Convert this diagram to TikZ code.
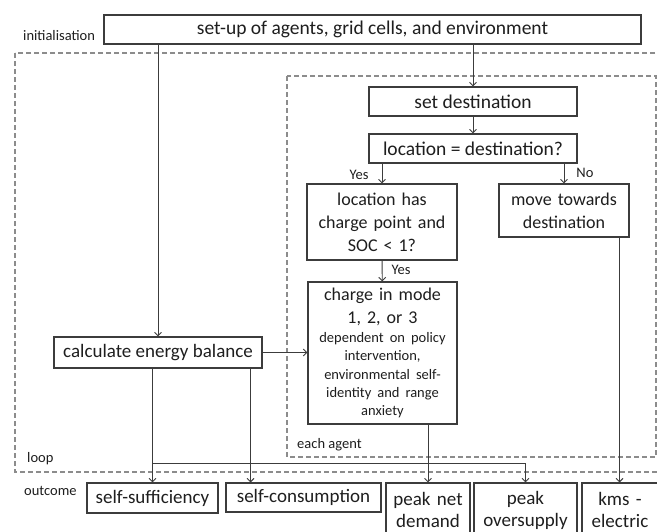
\documentclass[tikz,border=0pt]{standalone}
\usepackage{fontspec}
\setmainfont{Carlito}
\usetikzlibrary{arrows.meta,calc}
\definecolor{ink}{HTML}{1E1E1E}
\definecolor{edgec}{HTML}{3C3C3C}
\definecolor{dashgray}{HTML}{8C8C8C}
\begin{document}
\begin{tikzpicture}[x=1pt,y=-1pt,
  box/.style={draw=edgec, line width=1.1pt, fill=white, text=ink, inner sep=0pt,
    font=\fontsize{18}{23}\selectfont, align=center},
  big/.style={font=\fontsize{19.5}{23}\selectfont},
  mid/.style={font=\fontsize{19}{23}\selectfont},
  arr/.style={draw=edgec, line width=0.9pt, -{Straight Barb[length=3.5pt,width=7pt]}},
  region/.style={draw=dashgray, line width=1.6pt, dash pattern=on 5pt off 3pt},
  lab/.style={text=ink, font=\fontsize{14.5}{17}\selectfont, inner sep=0pt}]

\useasboundingbox (0,0) rectangle (657,531);
\clip (0,0) rectangle (657,531);
\fill[white] (0,0) rectangle (657,531);

% regions
\draw[region] (15,53) rectangle (672,472);
\draw[region] (287,76) rectangle (656,457);

% boxes
\node[box, big, minimum width=537pt, minimum height=29pt] (top) at (372.5,29.5)
  {set-up of agents, grid cells, and environment};
\node[box, big, minimum width=208pt, minimum height=29pt] (setdest) at (473,101.5)
  {set destination};
\node[box, big, minimum width=208pt, minimum height=29pt] (locdest) at (473,148.5)
  {location = destination?};
\node[box, minimum width=150pt, minimum height=76pt, text width=146pt] (chargept) at (382,222)
  {location has\\charge point and\\SOC < 1?};
\node[box, minimum width=130pt, minimum height=53pt, text width=126pt] (move) at (564,210.5)
  {move towards\\destination};
\node[box, minimum width=149pt, minimum height=142pt, text width=145pt] (charge) at (382.5,353)
  {charge in mode\\1, 2, or 3\par
   \fontsize{14.5}{18.2}\selectfont\vspace{1pt}dependent on policy\\intervention,\\environmental self-\\identity and range\\anxiety\par};
\node[box, mid, minimum width=208pt, minimum height=31pt] (calc) at (158,352.5)
  {calculate energy balance};

% outcomes
\node[box, mid, minimum width=131pt, minimum height=30pt] (ss) at (152.5,498) {self-sufficiency};
\node[box, mid, minimum width=155pt, minimum height=29pt] (sc) at (303.5,497.5) {self-consumption};
\node[box, mid, font=\fontsize{19}{22}\selectfont, minimum width=84pt, minimum height=54pt, text width=80pt] (pnd) at (428,510) {peak net\\demand};
\node[box, mid, font=\fontsize{19}{22}\selectfont, minimum width=103pt, minimum height=54pt, text width=99pt] (po) at (525.5,510) {peak\\oversupply};
\node[box, mid, font=\fontsize{19}{22}\selectfont, minimum width=76pt, minimum height=54pt, text width=72pt] (kms) at (620,510) {kms -\\electric};

% labels
\node[lab, anchor=west] (init) at (23,36) {initialisation};
\node[lab, anchor=west] (loop) at (27,459) {loop};
\node[lab, anchor=west] (each) at (297,445) {each agent};
\node[lab, anchor=west] (outc) at (24,491) {outcome};
\node[lab] (yes1) at (359,175) {Yes};
\node[lab] (no1) at (585,173) {No};
\node[lab] (yes2) at (401,270) {Yes};

% connectors
\draw[arr] (calc.north |- top.south) -- (calc.north);
\draw[arr] (setdest.north |- top.south) -- (setdest.north);
\draw[arr] (setdest) -- (locdest);
\draw[arr] (chargept.north |- locdest.south) -- (chargept.north);
\draw[arr] (move.north |- locdest.south) -- (move.north);
\draw[arr] (chargept) -- (charge);
\draw[arr] (calc.east) -- (charge.west |- calc.east);
\draw[arr] (ss.north |- calc.south) -- (ss.north);
\coordinate (scx) at ($(calc.south east)+(-12,0)$);
\draw[arr] (scx) -- (scx |- sc.north);
\coordinate (br) at ($(ss.north)+(0,-19)$);
\draw[arr] (br) -| (po.north);
\draw[arr] (pnd.north |- charge.south) -- (pnd.north);
\coordinate (mv) at ($(move.south east)+(-10,0)$);
\draw[arr] (mv) -- (mv |- kms.north);
\end{tikzpicture}
\end{document}
